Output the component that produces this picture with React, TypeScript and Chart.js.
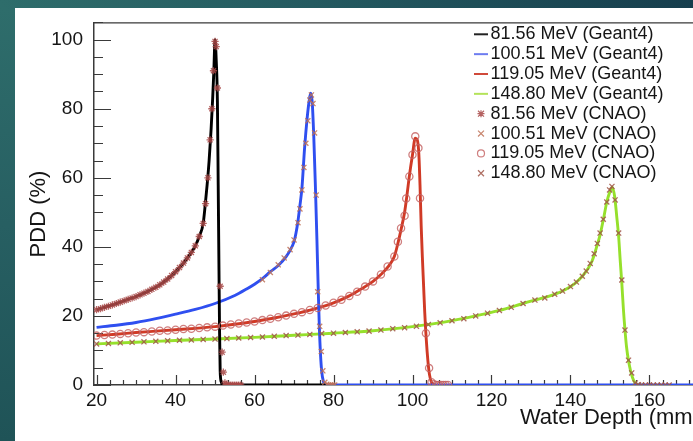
import React, { useEffect, useRef } from "react";
import { Chart, registerables } from "chart.js";

Chart.register(...registerables);

// ---------- axis ranges & ticks ----------
const X_MIN = 19.35;
const X_MAX = 172.8;
const Y_MIN = 0;
const Y_MAX = 105;
const X_TICKS = [20, 40, 60, 80, 100, 120, 140, 160];
const Y_TICKS = [0, 20, 40, 60, 80, 100];

const X_TITLE = "Water Depth (mm)";
const Y_TITLE = "PDD (%)";

const LABELS = [
  "81.56 MeV (Geant4)",
  "100.51 MeV (Geant4)",
  "119.05 MeV (Geant4)",
  "148.80 MeV (Geant4)",
  "81.56 MeV (CNAO)",
  "100.51 MeV (CNAO)",
  "119.05 MeV (CNAO)",
  "148.80 MeV (CNAO)",
];

// ---------- Geant4 curves ----------
const G81_X = [20, 22, 24, 26, 28, 30, 32, 34, 36, 38, 40, 41, 42, 43, 44, 45, 46, 47, 47.5, 48, 48.5, 49, 49.4, 49.7, 50, 50.3, 50.6, 50.8, 51, 51.15, 51.3, 51.6, 52, 78];
const G81_Y = [21.8, 22.5, 23.2, 24, 24.8, 25.6, 26.6, 27.7, 29, 30.7, 32.8, 34, 35.3, 36.8, 38.4, 40.3, 43, 46.8, 52, 58, 65, 74, 83, 91, 100, 94, 82, 58, 33, 15, 4, 0.8, 0, 0];

const G100_X = [20, 25, 30, 35, 40, 45, 50, 55, 58, 60, 62, 64, 66, 68, 69, 70, 70.5, 71, 71.5, 72, 72.7, 73.3, 73.8, 74.2, 74.6, 75, 75.4, 75.8, 76.1, 76.4, 76.7, 77, 77.4, 78, 172.8];
const G100_Y = [16.7, 17.3, 18.1, 19.2, 20.5, 21.9, 23.6, 25.9, 27.8, 29.2, 30.8, 32.8, 34.6, 37.2, 39, 41.5, 44, 47.5, 52, 57, 69, 77, 82, 84.5, 82, 72, 58, 42, 29, 17, 9, 4, 1.2, 0, 0];

const G119_X = [20, 25, 30, 35, 40, 45, 50, 55, 60, 65, 70, 75, 80, 84, 87, 90, 92, 94, 95.4, 96.3, 97.1, 98, 98.6, 99.2, 100, 100.7, 101.2, 101.6, 101.9, 102.2, 102.5, 102.8, 103.1, 103.5, 103.9, 104.3, 104.8, 105.4, 106];
const G119_Y = [14.3, 14.7, 15.2, 15.6, 16, 16.4, 16.9, 17.6, 18.4, 19.4, 20.6, 22, 23.8, 25.8, 27.8, 30, 32, 34.5, 37.2, 41, 45, 50, 55, 60.5, 66.7, 71.5, 71, 67, 58, 46, 37, 29, 21, 13, 7, 3, 0.8, 0.1, 0];

const G148_X = [20, 30, 40, 50, 60, 70, 80, 90, 100, 108, 116, 122, 126, 130, 134, 138, 141, 143, 144.5, 145.5, 146.5, 147.5, 148.4, 149.2, 150, 150.6, 151.2, 151.7, 152.2, 152.6, 153, 153.4, 153.8, 154.2, 154.7, 155.2, 155.7, 156.3, 157, 158];
const G148_Y = [11.9, 12.4, 12.9, 13.3, 13.8, 14.4, 15, 15.7, 16.9, 18.2, 20, 21.6, 22.9, 24.3, 25.5, 27.2, 29.3, 31.5, 33.8, 36, 39.5, 43.5, 48.3, 53, 56, 57.3, 54.5, 49, 43, 36, 29.5, 22, 16, 11, 7, 4.2, 2.2, 0.7, 0.1, 0];

// ---------- CNAO measurements ----------
const C81_X = [20, 21, 22, 23, 24, 25, 26, 27, 28, 29, 30, 31, 32, 33, 34, 35, 36, 37, 38, 39, 40, 41, 42, 43, 44, 45, 46, 47, 47.6, 48.2, 48.75, 49.2, 49.6, 50, 50.3, 50.6, 51.3, 51.8, 52.1, 52.5, 53, 53.5, 54, 54.5, 55, 55.5, 56, 56.5];
const C81_Y = [21.8, 22.1, 22.5, 22.8, 23.2, 23.6, 24, 24.4, 24.8, 25.2, 25.6, 26.1, 26.6, 27.1, 27.7, 28.3, 29, 29.8, 30.7, 31.7, 32.8, 34, 35.3, 36.8, 38.4, 40.3, 43, 46.8, 52.5, 60, 71, 80, 91, 99.5, 98, 86, 28.6, 9.5, 3.7, 0.6, 0.1, 0, 0, 0, 0, 0, 0, 0];

const C100_X = [62, 64, 66, 67.5, 69, 70, 71, 71.5, 72, 72.5, 73, 73.5, 74, 74.4, 74.8, 75.2, 75.6, 76, 76.5, 76.9, 77.3, 77.8, 78.3, 78.8, 79.3, 79.8, 80.3];
const C100_Y = [30.5, 32.6, 34.8, 36.8, 39.2, 42, 47, 51, 56.5, 63, 70, 76.5, 82.5, 84, 81.5, 73, 55, 27, 17, 9.7, 4.1, 0.8, 0.2, 0, 0, 0, 0];

const C119_X = [20, 22, 24, 26, 28, 30, 32, 34, 36, 38, 40, 42, 44, 46, 48, 50, 52, 54, 56, 58, 60, 62, 64, 66, 68, 70, 72, 74, 76, 78, 80, 82, 84, 86, 88, 90, 92, 93.7, 95.4, 96.3, 97.1, 98, 98.4, 99.2, 100, 100.7, 101.5, 101.9, 103.4, 104.2, 104.8, 105.4, 106, 106.6, 107.2, 107.8, 108.4, 109];
const C119_Y = [14.3, 14.5, 14.6, 14.8, 15, 15.2, 15.3, 15.5, 15.7, 15.8, 16, 16.2, 16.3, 16.5, 16.7, 16.9, 17.2, 17.5, 17.8, 18.1, 18.4, 18.8, 19.2, 19.6, 20.1, 20.6, 21.1, 21.7, 22.3, 23, 23.8, 24.7, 25.8, 27, 28.5, 30, 32, 34.3, 37.2, 41.5, 45.4, 49, 54, 60.4, 66.7, 72, 68.6, 54.1, 15, 4.9, 0.8, 0.2, 0, 0, 0, 0, 0, 0];

const C148_X = [20, 23, 26, 29, 32, 35, 38, 41, 44, 47, 50, 53, 56, 59, 62, 65, 68, 71, 74, 77, 80, 83, 86, 89, 92, 95, 98, 101, 104, 107, 110, 113, 116, 119, 122, 125, 128, 131, 133.5, 136, 138, 140, 141.5, 143, 144, 145, 146, 146.8, 147.5, 148.3, 149.2, 149.9, 150.5, 151.3, 152.2, 153, 153.8, 154.7, 155.5, 156.4, 157.2, 158, 159, 160, 161, 162, 163, 164, 165];
const C148_Y = [11.9, 12.05, 12.2, 12.35, 12.5, 12.65, 12.8, 12.95, 13.05, 13.2, 13.3, 13.45, 13.6, 13.75, 13.9, 14.1, 14.3, 14.45, 14.65, 14.9, 15, 15.2, 15.4, 15.6, 15.9, 16.3, 16.6, 17, 17.5, 18, 18.6, 19.2, 20, 20.8, 21.6, 22.5, 23.6, 24.6, 25.2, 26.3, 27.2, 28.5, 29.8, 31.5, 33, 35.2, 38, 41, 44, 48, 53, 56.5, 57.5, 53.6, 44, 30.4, 15.9, 7.2, 3.5, 0.6, 0.1, 0, 0, 0, 0, 0, 0, 0, 0];

// ---------- styles ----------
const FONT = "'Liberation Sans', Arial, Helvetica, sans-serif";
const TEXT_COLOR = "#151515";
const LINE_COLORS = ["#000000", "#2f4ff0", "#d03a26", "#96e02c"];
const LEGEND_LINE_COLORS = ["#222222", "#6d7cf0", "#d0493a", "#b4e35a"];
const MARKER_COLORS = [
  "rgba(168,72,70,0.85)",
  "rgba(190,112,85,0.85)",
  "rgba(195,95,95,0.8)",
  "rgba(160,85,70,0.85)",
];
const MARKER_STYLES = ["star", "crossRot", "circle", "crossRot"];

const pts = (xs: number[], ys: number[]) => xs.map((x, i) => ({ x, y: ys[i] }));

const rootFrame = {
  id: "rootFrame",
  beforeDatasetsDraw(chart: any) {
    const { ctx, chartArea, scales } = chart;
    const xs = scales.x;
    const ys = scales.y;
    ctx.save();
    ctx.strokeStyle = "#3a3a3a";
    ctx.lineWidth = 1.2;
    ctx.beginPath();
    ctx.moveTo(chartArea.left, chartArea.top + 0.5);
    ctx.lineTo(chartArea.right, chartArea.top + 0.5);
    for (let v = 0; v <= Y_MAX + 0.001; v += 5) {
      const p = Math.round(ys.getPixelForValue(v)) + 0.5;
      const len = v % 20 === 0 ? 17 : 9;
      ctx.moveTo(chartArea.left, p);
      ctx.lineTo(chartArea.left + len, p);
    }
    for (let k = 0; ; k++) {
      const v = 20 + (k * 20) / 6;
      if (v > X_MAX) break;
      const p = Math.round(xs.getPixelForValue(v)) + 0.5;
      const len = k % 6 === 0 ? 10 : 5;
      ctx.moveTo(p, chartArea.bottom);
      ctx.lineTo(p, chartArea.bottom - len);
    }
    ctx.stroke();
    ctx.restore();
  },
};

const rootText = {
  id: "rootText",
  afterDraw(chart: any) {
    const { ctx } = chart;
    ctx.save();
    // y-axis title
    ctx.translate(39, 214);
    ctx.rotate(-Math.PI / 2);
    ctx.font = `22px ${FONT}`;
    ctx.fillStyle = TEXT_COLOR;
    ctx.textAlign = "center";
    ctx.textBaseline = "middle";
    ctx.fillText(Y_TITLE, 0, 0);
    ctx.restore();

    // legend
    ctx.save();
    ctx.font = `18px ${FONT}`;
    ctx.textAlign = "left";
    ctx.textBaseline = "middle";
    const x0 = 474;
    for (let i = 0; i < LABELS.length; i++) {
      const y = 34.3 + i * 19.85;
      if (i < 4) {
        ctx.strokeStyle = LEGEND_LINE_COLORS[i];
        ctx.lineWidth = 2;
        ctx.beginPath();
        ctx.moveTo(x0, y);
        ctx.lineTo(x0 + 14, y);
        ctx.stroke();
      } else {
        const j = i - 4;
        ctx.strokeStyle = MARKER_COLORS[j];
        ctx.lineWidth = 1.2;
        const r = 3.5;
        const cx = x0 + 7;
        ctx.beginPath();
        if (MARKER_STYLES[j] === "circle") {
          ctx.arc(cx, y, r, 0, Math.PI * 2);
        } else {
          const d = r * Math.SQRT1_2 * 1.2;
          ctx.moveTo(cx - d, y - d); ctx.lineTo(cx + d, y + d);
          ctx.moveTo(cx - d, y + d); ctx.lineTo(cx + d, y - d);
          if (MARKER_STYLES[j] === "star") {
            ctx.moveTo(cx - r, y); ctx.lineTo(cx + r, y);
            ctx.moveTo(cx, y - r); ctx.lineTo(cx, y + r);
          }
        }
        ctx.stroke();
      }
      ctx.fillStyle = TEXT_COLOR;
      ctx.fillText(LABELS[i], x0 + 16.5, y);
    }
    ctx.restore();
  },
};

export default function App() {
  const ref = useRef<HTMLCanvasElement | null>(null);

  useEffect(() => {
    const canvas = ref.current;
    if (!canvas) return;
    const lineSets = [
      pts(G81_X, G81_Y),
      pts(G100_X, G100_Y),
      pts(G119_X, G119_Y),
      pts(G148_X, G148_Y),
    ];
    const markerSets = [
      pts(C81_X, C81_Y),
      pts(C100_X, C100_Y),
      pts(C119_X, C119_Y),
      pts(C148_X, C148_Y),
    ];
    const datasets: any[] = [];
    lineSets.forEach((d, i) => {
      datasets.push({
        label: LABELS[i],
        data: d,
        borderColor: LINE_COLORS[i],
        backgroundColor: LINE_COLORS[i],
        borderWidth: 2.9,
        pointRadius: 0,
        fill: false,
        cubicInterpolationMode: "monotone",
        order: 1 + i,
      });
    });
    markerSets.forEach((d, i) => {
      datasets.push({
        label: LABELS[4 + i],
        data: d,
        showLine: false,
        borderColor: MARKER_COLORS[i],
        backgroundColor: "rgba(0,0,0,0)",
        pointStyle: MARKER_STYLES[i],
        pointRadius: 3.6,
        pointBorderWidth: 1.3,
        order: 0,
      });
    });

    const chart = new Chart(canvas, {
      type: "line",
      data: { datasets },
      options: {
        animation: false,
        responsive: false,
        devicePixelRatio: 1,
        parsing: false as any,
        layout: { padding: { top: 21, right: 20, left: 0, bottom: 0 } },
        plugins: { legend: { display: false }, tooltip: { enabled: false } },
        scales: {
          x: {
            type: "linear",
            min: X_MIN,
            max: X_MAX,
            afterBuildTicks: (s: any) => {
              s.ticks = X_TICKS.map((v) => ({ value: v }));
            },
            afterFit: (s: any) => {
              s.height = 56;
            },
            grid: { display: false, drawTicks: false },
            border: { display: true, color: "#3a3a3a", width: 1.5 },
            ticks: {
              padding: 4,
              color: TEXT_COLOR,
              font: { family: FONT, size: 19 },
              maxRotation: 0,
              autoSkip: false,
            },
            title: {
              display: true,
              text: X_TITLE,
              align: "end",
              color: TEXT_COLOR,
              font: { family: FONT, size: 22 },
              padding: { top: 0, bottom: 10 },
            },
          },
          y: {
            type: "linear",
            min: Y_MIN,
            max: Y_MAX,
            afterBuildTicks: (s: any) => {
              s.ticks = Y_TICKS.map((v) => ({ value: v }));
            },
            afterFit: (s: any) => {
              s.width = 94;
            },
            grid: { display: false, drawTicks: false },
            border: { display: true, color: "#3a3a3a", width: 1.5 },
            ticks: {
              padding: 11,
              color: TEXT_COLOR,
              font: { family: FONT, size: 19 },
            },
          },
        },
      },
      plugins: [rootFrame, rootText],
    });
    return () => chart.destroy();
  }, []);

  return (
    <div
      style={{
        position: "fixed",
        left: 0,
        top: 0,
        width: 693,
        height: 441,
        overflow: "hidden",
        background: "linear-gradient(90deg, #2e6d6b 0%, #245a60 45%, #163e4d 100%)",
      }}
    >
      <div
        style={{
          position: "absolute",
          left: 0,
          top: 8,
          width: 15,
          bottom: 0,
          background: "linear-gradient(180deg, #2e6d6b 0%, #275f62 50%, #1f5357 100%)",
        }}
      />
      <div style={{ position: "absolute", left: 15, top: 8, right: 0, bottom: 0, background: "#ffffff" }} />
      <canvas
        ref={ref}
        width={720}
        height={441}
        style={{ position: "absolute", left: 0, top: 0, width: 720, height: 441 }}
      />
    </div>
  );
}
